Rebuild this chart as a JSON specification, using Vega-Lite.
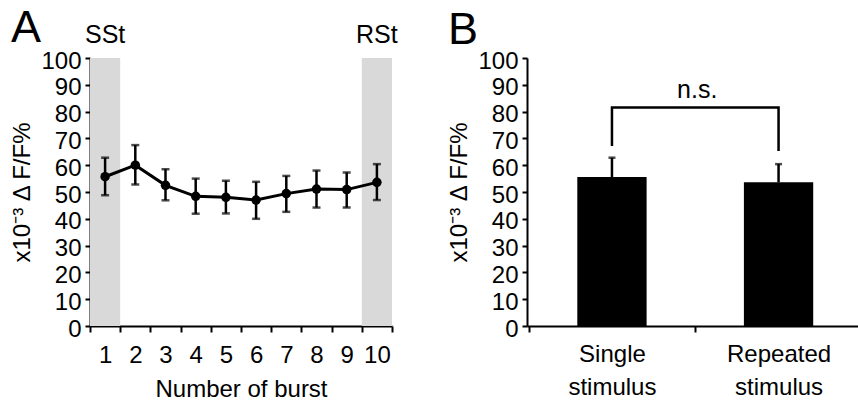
{
  "$schema": "https://vega.github.io/schema/vega-lite/v6.json",
  "padding": {"left": 10, "top": 6, "right": 0, "bottom": 0},
  "background": "white",
  "datasets": {
    "bursts": [
      {"burst": 1, "mean": 55.7, "lo": 48.8, "hi": 62.8},
      {"burst": 2, "mean": 60.0, "lo": 52.8, "hi": 67.5},
      {"burst": 3, "mean": 52.5, "lo": 46.9, "hi": 58.5},
      {"burst": 4, "mean": 48.4, "lo": 41.9, "hi": 55.0},
      {"burst": 5, "mean": 48.0, "lo": 42.0, "hi": 54.2},
      {"burst": 6, "mean": 47.0, "lo": 40.0, "hi": 53.8},
      {"burst": 7, "mean": 49.4, "lo": 42.6, "hi": 56.0},
      {"burst": 8, "mean": 51.1, "lo": 44.2, "hi": 58.0},
      {"burst": 9, "mean": 50.9, "lo": 44.2, "hi": 57.3},
      {"burst": 10, "mean": 53.6, "lo": 47.0, "hi": 60.4}
    ],
    "spans": [
      {"burst": 1, "from": 0.5, "to": 1.5, "label": "SSt"},
      {"burst": 10, "from": 9.5, "to": 10.5, "label": "RSt"}
    ],
    "bars": [
      {"cat": "Single stimulus", "mean": 55.6, "hi": 62.8},
      {"cat": "Repeated stimulus", "mean": 53.6, "hi": 60.4}
    ],
    "bracket": [
      {"cat": "Single stimulus", "v": 67.2, "o": 1},
      {"cat": "Single stimulus", "v": 81.5, "o": 2},
      {"cat": "Repeated stimulus", "v": 81.5, "o": 3},
      {"cat": "Repeated stimulus", "v": 65.3, "o": 4}
    ],
    "sig": [
      {"cat": "Single stimulus", "v": 85.1, "t": "n.s."}
    ]
  },
  "align": "each",
  "spacing": 39,
  "hconcat": [
    {
      "width": 302,
      "height": 268,
      "title": {"text": "A", "anchor": "start", "frame": "bounds", "fontSize": 45, "fontWeight": "normal", "font": "Liberation Sans", "color": "black", "offset": -28},
      "layer": [
        {
          "data": {"name": "spans"},
          "mark": {"type": "rect", "color": "#d9d9d9"},
          "encoding": {
            "x": {"field": "from", "type": "quantitative", "title": "Number of burst",
              "scale": {"domain": [0.5, 10.5], "nice": false, "zero": false},
              "axis": {"values": [0.5, 1.5, 2.5, 3.5, 4.5, 5.5, 6.5, 7.5, 8.5, 9.5, 10.5], "tickCount": 20,
                "labelExpr": "datum.value < 10 ? format(datum.value + 0.5, 'd') : ''",
                "labelOffset": 15.1, "tickSize": 6, "labelPadding": 11, "titlePadding": 10, "labelFlush": false, "labelOverlap": false}},
            "x2": {"field": "to"},
            "y": {"datum": 0, "type": "quantitative", "title": "x10⁻³ Δ F/F%"},
            "y2": {"datum": 100}
          }
        },
        {
          "data": {"name": "spans"},
          "mark": {"type": "text", "baseline": "alphabetic", "fontSize": 25, "font": "Liberation Sans", "color": "black", "clip": false},
          "encoding": {
            "x": {"field": "burst", "type": "quantitative", "title": "Number of burst"},
            "y": {"datum": 105.5, "type": "quantitative", "title": "x10⁻³ Δ F/F%"},
            "text": {"field": "label"}
          }
        },
        {
          "data": {"name": "bursts"},
          "mark": {"type": "rule", "color": "black", "strokeWidth": 2.5},
          "encoding": {
            "x": {"field": "burst", "type": "quantitative", "title": "Number of burst"},
            "y": {"field": "lo", "type": "quantitative", "title": "x10⁻³ Δ F/F%",
              "scale": {"domain": [0, 100], "nice": false},
              "axis": {"values": [0, 10, 20, 30, 40, 50, 60, 70, 80, 90, 100], "tickCount": 20, "tickSize": 5, "labelPadding": 4, "labelOffset": 3, "titlePadding": 6, "labelOverlap": false}},
            "y2": {"field": "hi"}
          }
        },
        {
          "data": {"name": "bursts"},
          "mark": {"type": "tick", "orient": "horizontal", "color": "black", "size": 8, "thickness": 2.5},
          "encoding": {
            "x": {"field": "burst", "type": "quantitative", "title": "Number of burst"},
            "y": {"field": "lo", "type": "quantitative", "title": "x10⁻³ Δ F/F%"}
          }
        },
        {
          "data": {"name": "bursts"},
          "mark": {"type": "tick", "orient": "horizontal", "color": "black", "size": 8, "thickness": 2.5},
          "encoding": {
            "x": {"field": "burst", "type": "quantitative", "title": "Number of burst"},
            "y": {"field": "hi", "type": "quantitative", "title": "x10⁻³ Δ F/F%"}
          }
        },
        {
          "data": {"name": "bursts"},
          "mark": {"type": "line", "color": "black", "strokeWidth": 3},
          "encoding": {
            "x": {"field": "burst", "type": "quantitative", "title": "Number of burst"},
            "y": {"field": "mean", "type": "quantitative", "title": "x10⁻³ Δ F/F%"}
          }
        },
        {
          "data": {"name": "bursts"},
          "mark": {"type": "point", "filled": true, "color": "black", "size": 90, "opacity": 1},
          "encoding": {
            "x": {"field": "burst", "type": "quantitative", "title": "Number of burst"},
            "y": {"field": "mean", "type": "quantitative", "title": "x10⁻³ Δ F/F%"}
          }
        }
      ]
    },
    {
      "width": 331,
      "height": 268,
      "title": {"text": "B", "anchor": "start", "frame": "bounds", "fontSize": 45, "fontWeight": "normal", "font": "Liberation Sans", "color": "black", "offset": -4},
      "layer": [
        {
          "data": {"name": "bars"},
          "mark": {"type": "bar", "color": "black"},
          "encoding": {
            "x": {"field": "cat", "type": "nominal", "title": null,
              "scale": {"domain": ["Single stimulus", "Repeated stimulus"], "paddingInner": 0.584, "paddingOuter": 0.2854, "align": 0.529},
              "axis": {"labelAngle": 0, "labelExpr": "split(datum.label, ' ')", "labelLineHeight": 33, "tickOffset": -83.3, "labelOffset": 83.3, "tickSize": 6, "labelPadding": 10, "labelOverlap": false}},
            "y": {"field": "mean", "type": "quantitative", "title": "x10⁻³ Δ F/F%",
              "scale": {"domain": [0, 100], "nice": false},
              "axis": {"values": [0, 10, 20, 30, 40, 50, 60, 70, 80, 90, 100], "tickCount": 20, "tickSize": 5, "labelPadding": 4, "labelOffset": 3, "titlePadding": 6, "labelOverlap": false}}
          }
        },
        {
          "data": {"name": "bars"},
          "mark": {"type": "rule", "color": "black", "strokeWidth": 2.5},
          "encoding": {
            "x": {"field": "cat", "type": "nominal", "title": null},
            "y": {"field": "mean", "type": "quantitative", "title": "x10⁻³ Δ F/F%"},
            "y2": {"field": "hi"}
          }
        },
        {
          "data": {"name": "bars"},
          "mark": {"type": "tick", "orient": "horizontal", "color": "black", "size": 7, "thickness": 2.5},
          "encoding": {
            "x": {"field": "cat", "type": "nominal", "title": null},
            "y": {"field": "hi", "type": "quantitative", "title": "x10⁻³ Δ F/F%"}
          }
        },
        {
          "data": {"name": "bracket"},
          "mark": {"type": "line", "color": "black", "strokeWidth": 2.5, "strokeJoin": "miter", "strokeCap": "butt"},
          "encoding": {
            "x": {"field": "cat", "type": "nominal", "title": null},
            "y": {"field": "v", "type": "quantitative", "title": "x10⁻³ Δ F/F%"},
            "order": {"field": "o", "type": "quantitative"}
          }
        },
        {
          "data": {"name": "sig"},
          "mark": {"type": "text", "baseline": "alphabetic", "fontSize": 25, "font": "Liberation Sans", "color": "black"},
          "encoding": {
            "x": {"field": "cat", "type": "nominal", "title": null, "bandPosition": 1.73},
            "y": {"field": "v", "type": "quantitative", "title": "x10⁻³ Δ F/F%"},
            "text": {"field": "t"}
          }
        }
      ]
    }
  ],
  "config": {
    "view": {"stroke": null},
    "font": "Liberation Sans",
    "axis": {
      "grid": false,
      "labelOverlap": false,
      "domainColor": "black",
      "domainWidth": 2,
      "tickColor": "black",
      "tickWidth": 2,
      "labelFont": "Liberation Sans",
      "labelFontSize": 24,
      "labelColor": "black",
      "titleFont": "Liberation Sans",
      "titleFontSize": 24,
      "titleFontWeight": "normal",
      "titleColor": "black"
    }
  }
}
